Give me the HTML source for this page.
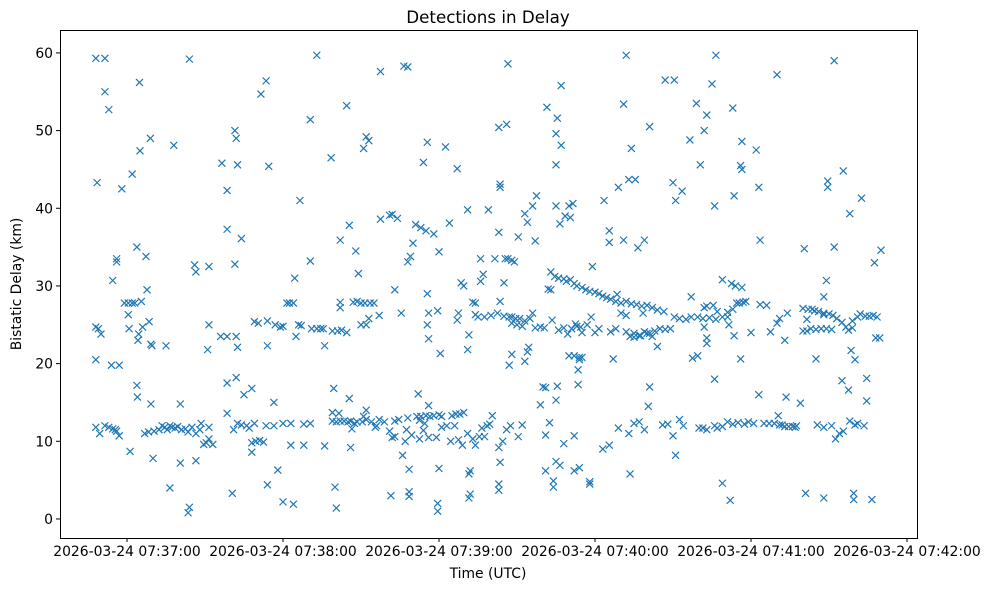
<!DOCTYPE html>
<html><head><meta charset="utf-8"><title>Detections in Delay</title>
<style>
html,body{margin:0;padding:0;background:#fff;}
svg{display:block;font-family:"DejaVu Sans","Liberation Sans",sans-serif;}
</style></head>
<body>
<svg id="chart" width="989" height="590" viewBox="0 0 989 590" xmlns="http://www.w3.org/2000/svg">
<rect width="989" height="590" fill="#fff"/>
<text x="488" y="23" font-size="16.7" text-anchor="middle" fill="#000">Detections in Delay</text>
<text x="488" y="578" font-size="13.9" text-anchor="middle" fill="#000">Time (UTC)</text>
<text transform="translate(21,284) rotate(-90)" font-size="13.9" text-anchor="middle" fill="#000">Bistatic Delay (km)</text>
<g id="ticks"></g>
<g id="marks"></g>
<rect x="60.5" y="30.5" width="857" height="508" fill="none" stroke="#000" stroke-width="1"/>
</svg>
<script>
// seconds relative to 2026-03-24 07:37:00 UTC
const xTickValues = [0, 60, 120, 180, 240, 300];
const xTickLabels = ["2026-03-24 07:37:00","2026-03-24 07:38:00","2026-03-24 07:39:00","2026-03-24 07:40:00","2026-03-24 07:41:00","2026-03-24 07:42:00"];
const yTickValues = [0, 10, 20, 30, 40, 50, 60];
const yTickLabels = ["0","10","20","30","40","50","60"];
// detections: [time (s), delay (km)]
const detections = [
[-12,59.3],[-8.5,59.3],[-11.5,43.3],[-8.5,55],[-7,52.7],[-12,24.7],[-11,24.5],[-10,23.8],[-12,20.5],[-12,11.8],[-10.5,11],[-8.5,12],[-7,11.8],[-5.5,11.6],[-4,11.3],[-3,10.7],[-6,19.8],[-3,19.8],[-5.5,30.7],[-4,33.5],[-4,33.1],[-2,42.5],[-1,27.8],[-4.5,11.5],
[0.5,27.8],[2,27.8],[3,27.8],[0.5,26.3],[0.8,24.5],[1.2,8.7],[2,44.4],[3.8,35],[3.8,17.2],[4,15.7],[4.2,23],[4.5,23.8],[5.5,28],[6,24.7],[7.3,33.8],[7.7,29.5],[8.5,25.4],[9,49],[5,47.4],[4.8,56.2],[9.6,22.3],[9.2,22.5],[10,7.8],[9.2,14.8],[6.8,11],[8.3,11.2],[10.4,11.3],
[18,48.1],[15,22.3],[16.5,4],[12.3,11.5],[13.5,12],[14.5,11.8],[15.5,11.5],[16.5,12],[17.3,11.8],[18.5,11.7],[19.5,11.9],[20.5,7.2],[20.5,14.8],
[24,59.2],[23.5,0.8],[24,1.5],[26,32.7],[26.5,31.8],[26.5,7.5],[21,11.5],[22.5,11.6],[23.5,11.2],[25,11.8],[26.5,11],[28,11.5],[28.5,12.3],[29.5,9.6],[31.5,32.5],[31.5,25],[31,21.8],[31.5,11.8],[30.5,9.8],[31.5,10.3],[33,9.6],
[36.5,45.8],[38.5,37.3],[38.5,42.3],[36,23.5],[38.5,23.5],[42,23.5],[38.5,17.5],[38.5,13.6],[40.5,3.3],[41.5,50],[42,49],[42.5,45.6],[41.5,32.8],[42,18.2],[41,11.5],[42.5,12.3],[44,12.1],[46,12],[47,11.7],
[44,36.1],[45,16],[48,16.8],[42.5,22.1],[48,9.8],[49.5,10],[48,8.6],[49,12.3],[49,25.4],[50.5,25.2],[51.5,54.7],[53.5,56.4],[54,25.5],[54.5,45.4],[54,22.3],[54,4.4],[51,10.1],[52.5,9.9],[53.5,12],[56.5,12],[56.5,15],[57,25],[59,24.7],[58,6.3],
[61.5,27.8],[62.5,27.8],[64,27.8],[60,24.8],[60,2.2],[64,1.9],[60,12.3],[63,12.3],[63,9.5],[64.5,31],[65,23.5],[66,25],[66.5,41],[67,24.9],[68,9.5],[70.5,33.2],[70.5,12.3],[70.5,51.4],[71,24.5],[73,24.5],[74.5,24.5],[75.5,24.5],[73,59.7],[68,12.2],
[76,22.3],[76,9.4],[79.5,16.8],[79,12.6],[80,4.1],[80.5,1.4],[78.5,46.5],[79,24.2],[81,24.2],[82.5,24.3],[84.5,24],[82,27.9],[82,27.2],[82,35.9],[80.5,12.5],[82,12.6],[83.5,12.6],[85,12.5],[86,12.6],[87.5,12.3],[79,13.7],[81.5,13.6],[85.5,15.5],[86.5,11.6],
[84.5,53.2],[85.5,37.8],[88.5,28],[87,27.9],[90,27.8],[91.5,27.8],[93.5,27.8],[95,27.8],[88,34.5],[89,31.6],[91,47.7],[92,49.2],[93,48.7],[88.5,12.5],[90.5,12.5],[92,12.8],[94,12.5],[95.5,11.8],[97,12.8],[86,9.2],[91,13.2],[99,12.5],[101,11.3],[102,10.5],[103,10.6],[90,25],[92,25],[93,25.8],[97,26.2],[92,14],[96,12],[97.5,57.6],[97.5,38.6],[101,39.1],[102,39.2],[104,38.7],[103,29.5],[105.5,26.5],[106.5,58.3],[108,58.2],[101.5,3],[106,8.2],[103,12.6],[104.5,12.8],[107,10],[107.5,11.5],[108.5,3.5],[108.5,2.9],[108.5,6.4],[109.5,10.8],[108,13],[108,33.1],[109,33.8],[110,35.5],
[111,37.9],[113,37.5],[115,37.1],[118,36.7],[112,16.1],[111.5,13.2],[113,13.2],[115,13.3],[116.5,13.2],[118,13.3],[120,13.4],[121,13.2],[112.5,12.7],[112.5,10.3],[114.5,12.3],[116,10.5],[119,10.5],[116,26.5],[115.5,25],[116,23.2],[115.5,29],[116,14.6],[115.5,48.5],[114,45.9],[114,11.4],[121,11.8],[120,6.5],[120.5,21.3],[120,34.4],[119.5,26.8],[122.5,47.9],[124,38.1],[119.5,1],[119.5,2],[123,12],[125,13.3],[126.5,13.5],[128,13.5],[129.5,13.7],[124.5,10],[127.5,10.2],[126,12],[127,45.1],[127,25.6],[127.5,26.5],[128.5,30.4],[129.5,30],[131,39.8],[131,21.8],[131.5,23.7],[131,11],[133,10.3],[131.5,5.8],[132,6.2],[132,3.2],[131.5,2.7],[129,9.5],[133,27.9],[134,27.8],
[136,33.5],[136,30.6],[137,31.5],[134,26.3],[135,26],[137.5,26],[140,26.2],[134,9.5],[135.5,10.6],[137.5,10.6],[136.5,11.7],[138.5,12],[139.5,12.2],[140.5,13.3],[139,39.8],[143,50.4],[146,50.8],[143,4.5],[143,3.7],[143.5,7.3],[143,9.2],[144.5,10],[146,11.5],[147.5,12],[150.5,10.6],[152,12.1],[143.5,42.7],[143.5,43.1],[143,36.9],[145,30.4],[145.5,33.5],[146.5,33.5],[148,33.3],[149,33.1],[150.5,36.3],[145,26.1],[147,26],[148,26],[149.5,25.8],[151,25.8],[148,25.2],[150,25],[152,24.8],[153,25.5],[147,19.8],[148,21.2],[146.5,58.6],[141.5,33.5],[143.5,28],[142.5,26.5],
[153,39.3],[154,38.2],[153,20.3],[154,21.5],[154.5,22.1],[156,40.3],[157.5,41.6],[157,35.8],[156,26.5],[155,25.8],[157,24.6],[159,24.7],[160.5,24.6],[159,14.7],[160,17],[161,16.9],[161,6.2],[161,10.8],[162.5,12.4],[161.5,53],[162,29.6],[163,29.5],[164.5,31.2],[165,45.6],[165.5,51.6],[165,49.6],[167,48.1],[167,55.8],[164,4.9],[164,4.1],[165,7.4],[165.5,17.1],[165,15.3],[166.5,6.9],[163.5,25.6],[166,24.3],[168,24.6],[169.5,23.8],[170,21],[172,21],[174,20.8],[175,20.8],[171,24.5],[173,24.8],[166.5,38],[168.5,39],[170,40.3],[170.5,38.8],[171.5,40.6],[163,31.8],[166,31],[168,30.9],[169,30.6],[170.5,30.8],[172,30.3],[173,30],[165,40.3],[168,9.7],
[175,29.8],[176.5,29.5],[178,29.3],[180,29.2],[181.5,29],[183,28.7],[184.5,28.5],[186,28.3],[188,28],[190,27.8],[172,10.7],[174,20.5],[173.5,19.2],[173.5,17.3],[174.5,24.7],[175,24],[177,25],[178.5,26],[179,32.5],[180,24],[181.5,24.5],[174,6.6],[172,6.2],[178,4.8],[178,4.5],[172.5,25.1],[183.5,41],[185.5,37.1],[185.5,35.6],[186,24.1],[188,24.5],[187,20.6],[189,11.7],[183,9],[185.5,9.5],[191,35.9],[189,42.7],[191,53.4],[190,26.5],[192,26.2],[188.5,28.9],
[192,28],[194,27.7],[196,27.6],[198,27.4],[200,27.5],[202,27.2],[204,26.9],[206.5,26.7],[192,24.1],[193.5,23.5],[195,23.9],[197,23.6],[199,24.1],[201,23.9],[203,24.2],[205,24.5],[207,24.4],[195,23.4],[197.5,23.6],[200,23.9],[202,23.5],[192,59.7],[193,43.7],[195.5,43.7],[194,47.7],[196.5,34.9],[193.5,5.8],[193,11],[195,12.3],[197,12.5],[199,11.5],[201,17],[200.5,14.5],[201,50.5],[199,35.9],[198.5,26.5],[207,56.5],[210.5,56.5],[210,43.3],[211,41],[204,22.2],[209,24.5],[210,10.7],[211,8.2],[206,12.1],[208,12.2],
[212.5,12.8],[214,12],[210.5,26],[212.5,25.8],[215,25.7],[217,26],[219.5,26],[213.5,42.2],[216.5,48.8],[219,53.5],[220.5,45.6],[217,28.6],[217.5,20.7],[219.5,21],[220,11.7],[221.5,11.7],[223,11.5],[226,12],[227,11.7],[229,11.9],[222,50],[223,52],[225,56],[226.5,59.7],[226,40.3],[222,27.2],[223,27.4],[225.5,27.5],[221.5,25.8],[224,25.9],[226.5,25.7],[229,26],[231,26],[223,23.3],[223,22.6],[222,24.7],[226,18],[227,26.7],[229,30.8],[229,4.6],[233,27],
[232,2.4],[232.5,30.3],[234,30],[236.5,29.8],[233,52.9],[233.5,41.6],[233.5,23.6],[231.5,25],[231,26.6],[234.5,27.8],[235.5,27.8],[237,27.9],[238,28],[236,45.5],[236.5,45],[236.5,48.6],[236,20.6],[231,12.5],[233,12.2],[235,12.4],[237.5,12.2],[239,12.5],[241,12.3],[242,47.5],[243,42.7],[243.5,35.9],[243.5,27.6],[246,27.5],[240,24],[247.5,24.1],[250,25.2],[251,25.8],[245,12.3],[247,12.3],[249,12.3],[251,12.1],[252,12.1],[243,16],[250,57.2],[250.5,13.3],
[253,11.9],[254.5,11.9],[256,11.9],[257,11.8],[257.5,12],[253.5,15.7],[253,23],[254,26.5],[259,14.9],[260,27.1],[262,27],[263.5,27],[264.5,26.8],[266,26.7],[268,26.5],[260,24.2],[261.5,24.2],[263,24.5],[265,24.4],[267,24.5],[269,24.5],[260.5,34.8],[261,3.3],[265,20.6],[261.5,25.7],[265.5,12.1],[268,11.8],[268,2.7],[268,26.3],[268,28.6],[269,30.7],[269.5,43.5],[269.5,42.7],[272,35],[272,59],
[270,26.4],[271.5,26.2],[273,25.8],[275,25.3],[276.5,24.7],[277.5,24.3],[279,24.6],[281,26],[271,24.4],[271,12],[272.5,10.3],[274,11],[275.5,11.3],[275,17.8],[275.5,44.8],[277.5,16.6],[278,12.6],[280,12.1],[281,12.3],[278.5,21.7],[280,20.5],[278,39.3],[279,25.5],[279.5,2.5],[279.5,3.3],[282,26.4],[282.5,41.3],[284,26.1],[285.5,26.1],[287,26.2],[288.5,26],[284.5,15.2],[284.5,18.1],[283.5,12],[286.5,2.5],[287.5,33],[288,23.3],[289.5,23.3],[290,34.6]
];

const NS = "http://www.w3.org/2000/svg";
const plot = {left:60, right:917, top:30, bottom:538};
const xMin = -25.77, xMax = 303.85, yMin = -2.45, yMax = 62.95;
function xScale(t){ return plot.left + (t - xMin) / (xMax - xMin) * (plot.right - plot.left); }
function yScale(d){ return plot.bottom - (d - yMin) / (yMax - yMin) * (plot.bottom - plot.top); }

const ticks = document.getElementById('ticks');
xTickValues.forEach((v,i)=>{
  const x = xScale(v);
  const ln = document.createElementNS(NS,'line');
  ln.setAttribute('x1',x);ln.setAttribute('x2',x);ln.setAttribute('y1',plot.bottom);ln.setAttribute('y2',plot.bottom+4);
  ln.setAttribute('stroke','#000');
  
  
  ticks.appendChild(ln);
  const tx = document.createElementNS(NS,'text');
  tx.setAttribute('x',x);tx.setAttribute('y',plot.bottom+18);tx.setAttribute('font-size','13.9');tx.setAttribute('text-anchor','middle');
  tx.textContent = xTickLabels[i];
  
  
  ticks.appendChild(tx);
});
yTickValues.forEach((v,i)=>{
  const y = yScale(v);
  const ln = document.createElementNS(NS,'line');
  ln.setAttribute('x1',plot.left-4);ln.setAttribute('x2',plot.left);ln.setAttribute('y1',y);ln.setAttribute('y2',y);
  ln.setAttribute('stroke','#000');
  
  
  ticks.appendChild(ln);
  const tx = document.createElementNS(NS,'text');
  tx.setAttribute('x',plot.left-7);tx.setAttribute('y',y+5);tx.setAttribute('font-size','13.9');tx.setAttribute('text-anchor','end');
  tx.textContent = yTickLabels[i];
  
  
  ticks.appendChild(tx);
});

const marks = document.getElementById('marks');
const s = 3.5;
detections.forEach(p=>{
  const x = xScale(p[0]), y = yScale(p[1]);
  const path = document.createElementNS(NS,'path');
  path.setAttribute('d',`M${x-s},${y-s}L${x+s},${y+s}M${x-s},${y+s}L${x+s},${y-s}`);
  path.setAttribute('stroke','#1f77b4');
  path.setAttribute('stroke-width','1.2');
  path.setAttribute('fill','none');
  
  
  marks.appendChild(path);
});
</script>
</body></html>
